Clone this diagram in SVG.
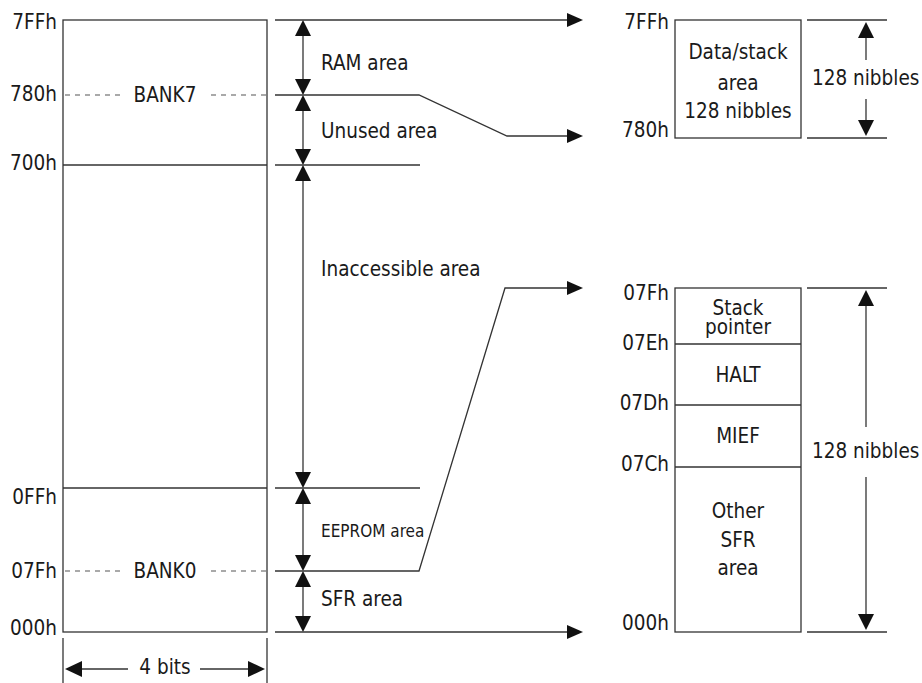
<svg xmlns="http://www.w3.org/2000/svg" width="922" height="683" viewBox="0 0 922 683">
<defs>
<style>
text{font-family:"DejaVu Sans Condensed","Liberation Sans",Arial,sans-serif;font-size:20.5px;fill:#1a1a1a}
.r{text-anchor:end}
.m{text-anchor:middle}
.s{font-size:17px}
.ln{stroke:#333;stroke-width:1.3;fill:none}
.dl{stroke:#555;stroke-width:1.2;stroke-dasharray:5 5;fill:none}
.ah{fill:#111}
</style>
</defs>
<rect width="922" height="683" fill="#fff"/>
<g id="main-memory">
<rect class="ln" x="63" y="20" width="204" height="612"/>
<line class="ln" x1="63" y1="165" x2="267" y2="165"/>
<line class="ln" x1="63" y1="488" x2="267" y2="488"/>
<line class="dl" x1="65" y1="95" x2="122" y2="95"/>
<line class="dl" x1="211" y1="95" x2="267" y2="95"/>
<line class="dl" x1="65" y1="571" x2="122" y2="571"/>
<line class="dl" x1="211" y1="571" x2="267" y2="571"/>
<text class="m" x="165" y="102">BANK7</text>
<text class="m" x="165" y="578">BANK0</text>
<text class="r" x="57" y="29">7FFh</text>
<text class="r" x="57" y="101">780h</text>
<text class="r" x="57" y="170">700h</text>
<text class="r" x="57" y="504">0FFh</text>
<text class="r" x="57" y="578">07Fh</text>
<text class="r" x="57" y="635">000h</text>
</g>
<g id="width-dim">
<line class="ln" x1="63" y1="638" x2="63" y2="683"/>
<line class="ln" x1="267" y1="638" x2="267" y2="683"/>
<line class="ln" x1="80" y1="669" x2="128" y2="669"/>
<line class="ln" x1="200" y1="669" x2="250" y2="669"/>
<polygon class="ah" points="65,669 82,661 82,677"/>
<polygon class="ah" points="265,669 248,661 248,677"/>
<text class="m" x="165" y="674">4 bits</text>
</g>
<g id="area-dims">
<line class="ln" x1="303" y1="34" x2="303" y2="81"/>
<line class="ln" x1="303" y1="109" x2="303" y2="151"/>
<line class="ln" x1="303" y1="179" x2="303" y2="474"/>
<line class="ln" x1="303" y1="502" x2="303" y2="557"/>
<line class="ln" x1="303" y1="585" x2="303" y2="618"/>
<polygon class="ah" points="303,20 295,36 311,36"/>
<polygon class="ah" points="303,95 295,79 311,79"/>
<polygon class="ah" points="303,95 295,111 311,111"/>
<polygon class="ah" points="303,165 295,149 311,149"/>
<polygon class="ah" points="303,165 295,181 311,181"/>
<polygon class="ah" points="303,488 295,472 311,472"/>
<polygon class="ah" points="303,488 295,504 311,504"/>
<polygon class="ah" points="303,571 295,555 311,555"/>
<polygon class="ah" points="303,571 295,587 311,587"/>
<polygon class="ah" points="303,632 295,616 311,616"/>
<text x="321" y="70">RAM area</text>
<text x="321" y="138">Unused area</text>
<text x="321" y="276">Inaccessible area</text>
<text class="s" x="321" y="537">EEPROM area</text>
<text x="321" y="606">SFR area</text>
</g>
<g id="connectors">
<line class="ln" x1="275" y1="20" x2="570" y2="20"/>
<polyline class="ln" points="275,95 419,95 507,136 570,136"/>
<line class="ln" x1="275" y1="165" x2="420" y2="165"/>
<line class="ln" x1="275" y1="488" x2="420" y2="488"/>
<polyline class="ln" points="275,571 419,571 505,288 570,288"/>
<line class="ln" x1="275" y1="632" x2="570" y2="632"/>
<polygon class="ah" points="583,20 567,13 567,27"/>
<polygon class="ah" points="583,136 567,129 567,143"/>
<polygon class="ah" points="583,288 567,281 567,295"/>
<polygon class="ah" points="583,632 567,625 567,639"/>
</g>
<g id="data-stack">
<rect class="ln" x="675" y="20" width="126" height="118"/>
<text class="m" x="738" y="59">Data/stack</text>
<text class="m" x="738" y="90">area</text>
<text class="m" x="738" y="118">128 nibbles</text>
<text class="r" x="669" y="29">7FFh</text>
<text class="r" x="669" y="137">780h</text>
<line class="ln" x1="807" y1="20" x2="887" y2="20"/>
<line class="ln" x1="807" y1="138" x2="887" y2="138"/>
<line class="ln" x1="866" y1="34" x2="866" y2="60"/>
<line class="ln" x1="866" y1="99" x2="866" y2="124"/>
<polygon class="ah" points="866,22 858,38 874,38"/>
<polygon class="ah" points="866,136 858,120 874,120"/>
<text x="812" y="85">128 nibbles</text>
</g>
<g id="sfr-area">
<rect class="ln" x="675" y="288" width="126" height="344"/>
<line class="ln" x1="675" y1="344" x2="801" y2="344"/>
<line class="ln" x1="675" y1="405" x2="801" y2="405"/>
<line class="ln" x1="675" y1="467" x2="801" y2="467"/>
<text class="m" x="738" y="315">Stack</text>
<text class="m" x="738" y="334">pointer</text>
<text class="m" x="738" y="382">HALT</text>
<text class="m" x="738" y="443">MIEF</text>
<text class="m" x="738" y="518">Other</text>
<text class="m" x="738" y="547">SFR</text>
<text class="m" x="738" y="575">area</text>
<text class="r" x="669" y="300">07Fh</text>
<text class="r" x="669" y="350">07Eh</text>
<text class="r" x="669" y="410">07Dh</text>
<text class="r" x="669" y="471">07Ch</text>
<text class="r" x="669" y="630">000h</text>
<line class="ln" x1="807" y1="288" x2="887" y2="288"/>
<line class="ln" x1="807" y1="632" x2="887" y2="632"/>
<line class="ln" x1="866" y1="304" x2="866" y2="427"/>
<line class="ln" x1="866" y1="477" x2="866" y2="616"/>
<polygon class="ah" points="866,290 858,306 874,306"/>
<polygon class="ah" points="866,630 858,614 874,614"/>
<text x="812" y="458">128 nibbles</text>
</g>
</svg>
